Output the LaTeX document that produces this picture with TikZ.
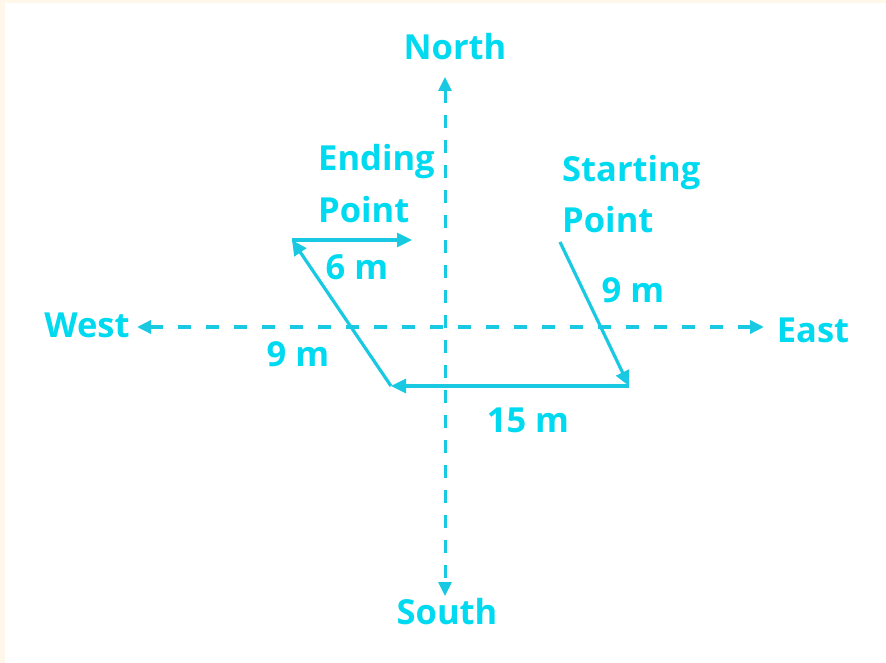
\documentclass[tikz,border=0pt]{standalone}
\usepackage{fontspec}
\setmainfont{Open Sans}
\usetikzlibrary{arrows.meta}
\definecolor{txtcyan}{RGB}{0,218,240}
\definecolor{linecyan}{RGB}{25,200,225}
\definecolor{cream}{RGB}{255,247,234}
\tikzset{
  lbl/.style={text=txtcyan,font=\bfseries\fontsize{34.5}{41}\selectfont,inner sep=0pt},
  axis/.style={draw=linecyan,line width=3.4pt,dash pattern=on 13pt off 15pt,{Triangle[length=14pt,width=13pt]}-{Triangle[length=14pt,width=13pt]}},
  vaxis/.style={draw=linecyan,line width=3pt,dash pattern=on 13pt off 12pt,{Triangle[length=14pt,width=13pt]}-{Triangle[length=14pt,width=13pt]}},
  leg/.style={draw=linecyan,line width=3.2pt,-{Triangle[length=15pt,width=14pt]}}
}
\begin{document}
\begin{tikzpicture}[x=1pt,y=-1pt]
\fill[cream] (0,0) rectangle (886,663);
\fill[white] (5,3) rectangle (886,663);
\useasboundingbox (0,0) rectangle (886,663);
% axes
\coordinate (N) at (445,77);
\coordinate (S) at (445,596);
\coordinate (W) at (137,327);
\coordinate (E) at (764,327);
\draw[vaxis] (N) -- (S);
\draw[axis] (W) -- (E);
% path
\coordinate (start) at (560,242);
\coordinate (p1) at (629,386);
\coordinate (p2) at (391,386);
\coordinate (p3) at (292,240);
\coordinate (endp) at (412,240);
\draw[leg] (start) -- (p1);
\draw[leg] (p1) -- (p2);
\draw[leg] (p2) -- (p3);
\draw[leg] (p3) -- (endp);
% labels
\node[lbl] (north) at (455,47) {North};
\node[lbl] (south) at (447,612) {South};
\node[lbl] (west) at (87,325) {West};
\node[lbl] (east) at (813,330) {East};
\node[lbl,anchor=west] (ending) at (318,162) {Ending};
\node[lbl,anchor=west] (point1) at (318,210) {Point};
\node[lbl,anchor=west] (starting) at (562,173) {Starting};
\node[lbl,anchor=west] (point2) at (562,220) {Point};
\node[lbl] (six) at (357,267) {6 m};
\node[lbl] (nineR) at (633,290) {9 m};
\node[lbl] (nineL) at (298,354) {9 m};
\node[lbl] (fifteen) at (528,420) {15 m};
\end{tikzpicture}
\end{document}
